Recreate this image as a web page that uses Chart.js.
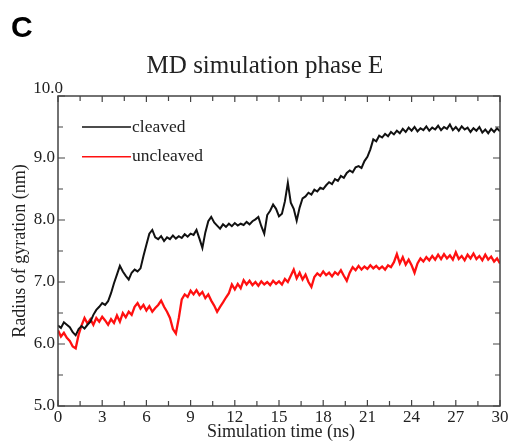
<!DOCTYPE html>
<html>
<head>
<meta charset="utf-8"/>
<style>
  html,body{margin:0;padding:0;background:#fff;}
  #wrap{width:509px;height:444px;position:relative;}
</style>
<script src="https://cdn.jsdelivr.net/npm/chart.js@4.4.0/dist/chart.umd.min.js"></script>
</head>
<body>
<div id="wrap"><canvas id="c" width="509" height="444"></canvas></div>
<script>
// sampling step of the trajectories (ns)
const TIME_STEP = 0.2;

const cleaved = [
  6.30,6.26,6.35,6.31,6.27,6.19,6.14,6.24,6.29,6.25,
  6.31,6.36,6.47,6.55,6.60,6.66,6.63,6.69,6.82,6.98,
  7.12,7.26,7.17,7.10,7.04,7.15,7.20,7.17,7.22,7.42,
  7.60,7.78,7.84,7.72,7.69,7.74,7.66,7.72,7.69,7.75,
  7.70,7.74,7.71,7.77,7.73,7.78,7.76,7.84,7.70,7.55,
  7.80,7.98,8.05,7.96,7.91,7.86,7.93,7.89,7.94,7.90,
  7.95,7.91,7.94,7.92,7.97,7.93,7.98,8.01,8.05,7.90,
  7.78,8.08,8.15,8.25,8.18,8.06,8.10,8.30,8.60,8.28,
  8.18,7.99,8.20,8.35,8.38,8.44,8.41,8.49,8.46,8.52,
  8.50,8.56,8.61,8.58,8.66,8.63,8.71,8.68,8.76,8.80,
  8.77,8.85,8.87,8.84,8.95,9.02,9.14,9.30,9.27,9.36,
  9.33,9.39,9.35,9.42,9.38,9.44,9.40,9.47,9.42,9.49,
  9.44,9.50,9.43,9.48,9.45,9.51,9.44,9.49,9.46,9.52,
  9.45,9.50,9.47,9.54,9.45,9.50,9.44,9.51,9.46,9.49,
  9.42,9.48,9.44,9.50,9.41,9.46,9.40,9.47,9.42,9.48,
  9.43
];

const uncleaved = [
  6.22,6.12,6.18,6.10,6.05,5.96,5.93,6.15,6.30,6.42,
  6.33,6.40,6.31,6.42,6.36,6.44,6.38,6.31,6.40,6.34,
  6.46,6.36,6.50,6.43,6.52,6.47,6.60,6.66,6.57,6.63,
  6.54,6.61,6.52,6.58,6.63,6.70,6.60,6.52,6.42,6.24,
  6.17,6.42,6.72,6.80,6.76,6.86,6.80,6.87,6.79,6.84,
  6.74,6.80,6.70,6.62,6.52,6.60,6.67,6.75,6.82,6.96,
  6.88,6.97,6.90,7.03,6.96,7.02,6.95,7.00,6.94,7.01,
  6.96,7.00,6.95,7.02,6.97,7.01,6.96,7.05,7.00,7.10,
  7.20,7.06,7.15,7.04,7.12,7.00,6.92,7.08,7.14,7.10,
  7.17,7.11,7.15,7.09,7.16,7.12,7.19,7.10,7.02,7.15,
  7.24,7.19,7.26,7.20,7.25,7.21,7.27,7.22,7.26,7.21,
  7.25,7.20,7.27,7.24,7.32,7.45,7.30,7.40,7.28,7.36,
  7.27,7.15,7.30,7.38,7.33,7.40,7.35,7.42,7.36,7.44,
  7.37,7.45,7.38,7.43,7.36,7.48,7.37,7.42,7.35,7.44,
  7.38,7.46,7.37,7.42,7.35,7.44,7.36,7.41,7.33,7.38,
  7.30
];

const xTicks = [0,3,6,9,12,15,18,21,24,27,30];
const xMinor = [1.5,4.5,7.5,10.5,13.5,16.5,19.5,22.5,25.5,28.5];
const yTicks = [5,6,7,8,9,10];
const yMinor = [5.5,6.5,7.5,8.5,9.5];
const seriesNames = ["cleaved","uncleaved"];

const toXY = (arr) => arr.map((v,i) => ({x: +(i*TIME_STEP).toFixed(2), y: v}));

const SERIF = '"Liberation Serif","DejaVu Serif",serif';
const INK = "#222";

// frame, inward ticks, labels, legend, titles
const decor = {
  id: "decor",
  afterDraw(chart) {
    const {ctx, chartArea:a, scales:{x, y}} = chart;
    ctx.save();
    ctx.strokeStyle = "#444"; ctx.lineWidth = 1.5;
    ctx.strokeRect(a.left, a.top, a.right-a.left, a.bottom-a.top);

    ctx.lineWidth = 1.2;
    ctx.beginPath();
    xTicks.concat(xMinor).forEach(t => {
      const px = x.getPixelForValue(t), len = xTicks.includes(t) ? 6 : 5;
      ctx.moveTo(px, a.bottom); ctx.lineTo(px, a.bottom-len);
      ctx.moveTo(px, a.top);    ctx.lineTo(px, a.top+len);
    });
    yTicks.concat(yMinor).forEach(v => {
      const py = y.getPixelForValue(v), len = yTicks.includes(v) ? 7 : 5;
      ctx.moveTo(a.left, py);  ctx.lineTo(a.left+len, py);
      ctx.moveTo(a.right, py); ctx.lineTo(a.right-len, py);
    });
    ctx.stroke();

    ctx.fillStyle = INK;
    ctx.font = `17px ${SERIF}`;
    ctx.textAlign = "center"; ctx.textBaseline = "top";
    xTicks.forEach(t => ctx.fillText(String(t), x.getPixelForValue(t), a.bottom+3));
    ctx.textAlign = "right"; ctx.textBaseline = "middle";
    yTicks.forEach(v => {
      const top = v === yTicks[yTicks.length-1];
      ctx.fillText(v.toFixed(1), a.left + (top ? 5 : -3), y.getPixelForValue(v) - (top ? 7 : 0));
    });

    ctx.font = `18px ${SERIF}`;
    ctx.textAlign = "center"; ctx.textBaseline = "middle";
    ctx.fillText("Simulation time (ns)", (a.left+a.right)/2 + 2, 432);
    ctx.save();
    ctx.translate(20, (a.top+a.bottom)/2);
    ctx.rotate(-Math.PI/2);
    ctx.fillText("Radius of gyration (nm)", 0, 0);
    ctx.restore();

    ctx.font = `25px ${SERIF}`;
    ctx.fillText("MD simulation phase E", 265, 66);

    ctx.font = 'bold 30px "Liberation Sans","DejaVu Sans",sans-serif';
    ctx.textAlign = "left";
    ctx.fillStyle = "#000";
    ctx.fillText("C", 11, 29);

    // legend
    ctx.font = `17.5px ${SERIF}`;
    chart.data.datasets.forEach((ds, i) => {
      const ly = y.getPixelForValue(9.5 - i*0.48);
      ctx.strokeStyle = ds.borderColor; ctx.lineWidth = 1.5;
      ctx.beginPath(); ctx.moveTo(82, ly); ctx.lineTo(131, ly); ctx.stroke();
      ctx.fillStyle = INK;
      ctx.fillText(ds.label, 132, ly);
    });
    ctx.restore();
  }
};

new Chart(document.getElementById("c"), {
  type: "line",
  data: {
    datasets: [
      { label: seriesNames[0], data: toXY(cleaved), borderColor: "#111", borderWidth: 2,
        pointRadius: 0, tension: 0 },
      { label: seriesNames[1], data: toXY(uncleaved), borderColor: "#ff1010", borderWidth: 2.3,
        pointRadius: 0, tension: 0 }
    ]
  },
  options: {
    responsive: false, animation: false, devicePixelRatio: 1,
    layout: { padding: { left: 58, top: 96, right: 9, bottom: 38 } },
    plugins: { legend: { display: false }, tooltip: { enabled: false } },
    scales: {
      x: { type: "linear", min: 0, max: 30, display: false },
      y: { type: "linear", min: 5, max: 10, display: false }
    }
  },
  plugins: [decor]
});
</script>
</body>
</html>
